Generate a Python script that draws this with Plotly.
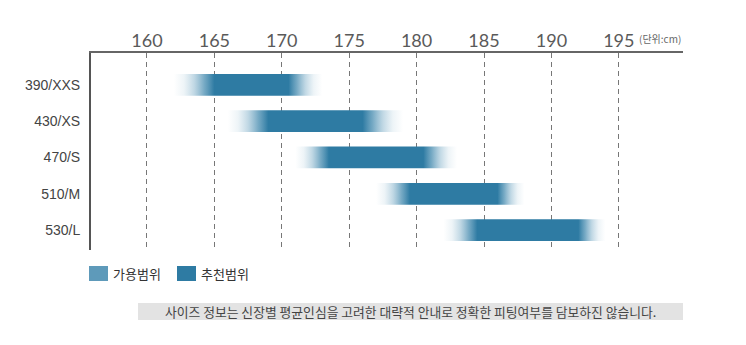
import plotly.graph_objects as go

# Size chart: available height range (fade) and recommended range (solid)
sizes = ["390/XXS", "430/XS", "470/S", "510/M", "530/L"]
avail_lo = [162, 166, 171, 177, 182]
avail_hi = [173, 179, 183, 188, 194]
rec_lo = [165, 169, 173.5, 179.5, 184.5]
rec_hi = [170.5, 176, 180.5, 186, 192]
height_ticks = [160, 165, 170, 175, 180, 185, 190, 195]

legend_labels = ["가용범위", "추천범위"]
note_text = "사이즈 정보는 신장별 평균인심을 고려한 대략적 안내로 정확한 피팅여부를 담보하진 않습니다."
unit_text = "(단위:cm)"

DARK = "rgb(46,123,163)"
HALF = 0.30

# Plot area in pixels (used to place the legend and the note below it)
PLOT_L, PLOT_R, PLOT_T, PLOT_B = 91, 683, 53, 250


def px_x(p):
    return (p - PLOT_L) / (PLOT_R - PLOT_L)


def px_y(p):
    return (PLOT_B - p) / (PLOT_B - PLOT_T)


def fade(a, b, frac):
    """Colour stop between the transparent edge and the solid core."""
    alphas = {0.0: 0.0, 0.25: 0.12, 0.5: 0.38, 0.75: 0.72}
    cols = {0.0: (120, 170, 196), 0.25: (110, 165, 193), 0.5: (90, 152, 185), 0.75: (66, 137, 174)}
    r, g, bb = cols[frac]
    return [a + (b - a) * frac, f"rgba({r},{g},{bb},{alphas[frac]})"]


fig = go.Figure()

for i, name in enumerate(sizes):
    lo, hi = avail_lo[i], avail_hi[i]
    span = hi - lo
    f1 = (rec_lo[i] - lo) / span
    f2 = (rec_hi[i] - lo) / span
    scale = [fade(0.0, f1, k) for k in (0.0, 0.25, 0.5, 0.75)]
    scale += [[f1, DARK], [f2, DARK]]
    scale += [fade(1.0, f2, k) for k in (0.75, 0.5, 0.25, 0.0)]
    fig.add_trace(go.Scatter(
        x=[lo, hi, hi, lo, lo],
        y=[i - HALF, i - HALF, i + HALF, i + HALF, i - HALF],
        mode="lines",
        line=dict(width=0),
        fill="toself",
        fillgradient=dict(type="horizontal", colorscale=scale, start=lo, stop=hi),
        hoverinfo="skip",
        showlegend=False,
        name=name,
    ))

fig.update_layout(
    width=746,
    height=345,
    margin=dict(l=PLOT_L, r=746 - PLOT_R, t=PLOT_T, b=345 - PLOT_B),
    paper_bgcolor="white",
    plot_bgcolor="white",
    showlegend=False,
    font=dict(family="Liberation Sans, Arial, sans-serif", color="#444"),
)

fig.update_xaxes(
    side="top",
    range=[155.85, 199.76],
    tickvals=height_ticks,
    ticktext=[str(t) for t in height_ticks],
    tickfont=dict(size=18, color="#5a5a5a", family="Lato, Noto Sans, sans-serif"),
    ticks="",
    ticklabelstandoff=-3,
    showline=True,
    linecolor="#666",
    linewidth=2,
    showgrid=True,
    gridcolor="#777",
    griddash="5px,4px",
    gridwidth=1,
    zeroline=False,
    fixedrange=True,
)

fig.update_yaxes(
    range=[4.55, -0.88],
    tickvals=list(range(len(sizes))),
    ticktext=sizes,
    tickfont=dict(size=14, color="#444"),
    ticks="",
    ticklabelstandoff=6,
    showline=True,
    linecolor="#555",
    linewidth=2,
    showgrid=False,
    zeroline=False,
    fixedrange=True,
)

# Unit label beside the top axis
fig.add_annotation(
    text=unit_text, xref="paper", yref="paper", x=1.0, y=1.0,
    xanchor="right", yanchor="bottom", yshift=5, showarrow=False,
    font=dict(size=10, color="#666", family="Noto Sans CJK KR"),
)

# Legend swatches and labels
legend_colors = ["#5e9aba", DARK]
legend_x = [89, 177]
for lx, col, lab in zip(legend_x, legend_colors, legend_labels):
    fig.add_shape(
        type="rect", xref="paper", yref="paper",
        x0=px_x(lx), x1=px_x(lx + 19),
        y0=px_y(281), y1=px_y(266),
        fillcolor=col, line=dict(width=0),
    )
    fig.add_annotation(
        text=lab, xref="paper", yref="paper",
        x=px_x(lx + 22), y=px_y(273.5),
        xanchor="left", yanchor="middle", showarrow=False,
        font=dict(size=13, color="#333", family="Noto Sans CJK KR"),
    )

# Note bar at the bottom
fig.add_shape(
    type="rect", xref="paper", yref="paper",
    x0=px_x(138), x1=px_x(683),
    y0=px_y(320), y1=px_y(303),
    fillcolor="#e3e3e3", line=dict(width=0),
)
fig.add_annotation(
    text=note_text, xref="paper", yref="paper",
    x=px_x((138 + 683) / 2), y=px_y(311.5),
    xanchor="center", yanchor="middle", showarrow=False,
    font=dict(size=12.8, color="#444", family="Noto Sans CJK KR"),
)

fig.write_html("out.html")
